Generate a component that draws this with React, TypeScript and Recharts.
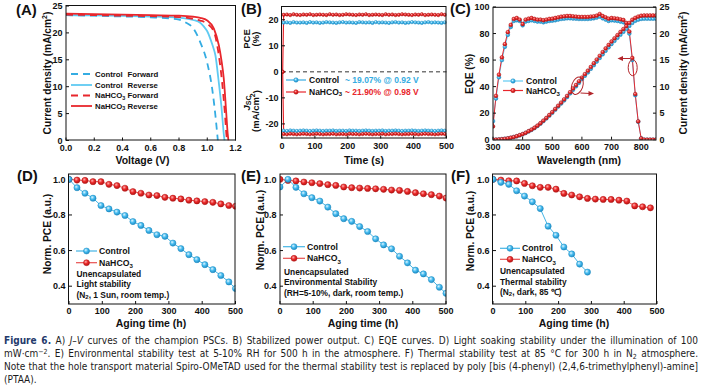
import React from "react";
import { LineChart, Line, XAxis, YAxis, ReferenceLine } from "recharts";

const FONT = "'Liberation Sans', Arial, Helvetica, sans-serif";
const CAPTION_FONT = "'Liberation Sans Narrow', 'DejaVu Sans Condensed', Lato, sans-serif";
const BLUE = "#34ace2";
const BLUE_LIGHT = "#5fcaf2";
const RED = "#e8262c";
const DARK_RED = "#b3262b";
const INK = "#111";

// ---- (A) J-V curves ----
const cfV = [0, 0.2, 0.4, 0.6, 0.8, 0.85, 0.9, 0.95, 1.0, 1.035, 1.058, 1.075];
const cfJ = [23.3, 23.2, 23.05, 22.9, 22.45, 21.9, 20.9, 18.3, 14.4, 9.6, 4.6, 0];
const crV = [0, 0.2, 0.4, 0.6, 0.8, 0.9, 0.95, 0.975, 1.0, 1.022, 1.04, 1.058, 1.08, 1.1, 1.117, 1.122];
const crJ = [23.3, 23.25, 23.15, 23.05, 22.85, 22.4, 21.9, 21.2, 20.3, 18.9, 17.5, 15.8, 11.2, 6.4, 1.2, 0];
const nfV = [0, 0.2, 0.4, 0.6, 0.8, 0.9, 0.95, 1.0, 1.047, 1.082, 1.105, 1.124, 1.136, 1.14];
const nfJ = [23.4, 23.3, 23.2, 23.1, 22.95, 22.6, 22.3, 21.7, 20.2, 15.8, 10.9, 5.3, 1.0, 0];
const nrV = [0, 0.2, 0.4, 0.6, 0.8, 0.9, 0.95, 1.0, 1.047, 1.082, 1.1, 1.117, 1.134, 1.145, 1.15];
const nrJ = [23.6, 23.5, 23.4, 23.3, 23.2, 23.0, 22.8, 22.3, 20.8, 17.7, 15.0, 11.5, 5.3, 1.2, 0];

// ---- (B) stabilized output ----
const tB = [5, 15, 25, 35, 45, 55, 65, 75, 85, 95, 105, 115, 125, 135, 145, 155, 165, 175, 185, 195,
  205, 215, 225, 235, 245, 255, 265, 275, 285, 295, 305, 315, 325, 335, 345, 355, 365, 375, 385, 395,
  405, 415, 425, 435, 445, 455, 465, 475, 485, 495];
const pceControl = [18.9, 19.0, 18.8, 19.1, 18.9, 18.9, 19.0, 18.8, 19.1, 18.9,
  19.0, 18.8, 18.9, 19.1, 19.0, 18.9, 18.8, 19.0, 19.1, 18.9,
  19.0, 18.9, 18.8, 19.1, 19.0, 18.9, 19.0, 18.8, 19.1, 18.9,
  19.0, 18.9, 18.8, 19.0, 19.1, 18.9, 19.0, 18.8, 18.9, 19.1,
  19.0, 18.9, 18.8, 19.0, 19.1, 18.9, 19.0, 18.9, 18.8, 19.0];
const pceNa = [21.9, 22.0, 21.8, 22.1, 21.9, 21.8, 22.0, 21.9, 22.1, 21.8,
  21.9, 22.0, 21.9, 21.8, 22.1, 21.9, 22.0, 21.8, 21.9, 22.1,
  22.0, 21.9, 21.8, 22.0, 21.9, 22.1, 21.8, 21.9, 22.0, 21.9,
  21.8, 22.1, 21.9, 22.0, 21.8, 21.9, 22.1, 22.0, 21.9, 21.8,
  22.0, 21.9, 22.1, 21.8, 21.9, 22.0, 21.9, 21.8, 22.1, 21.9];
const jscControlB = [-22.6, -22.7, -22.5, -22.6, -22.7, -22.6, -22.5, -22.6, -22.7, -22.6,
  -22.5, -22.6, -22.7, -22.6, -22.6, -22.5, -22.7, -22.6, -22.6, -22.7,
  -22.5, -22.6, -22.6, -22.7, -22.6, -22.5, -22.6, -22.7, -22.6, -22.6,
  -22.5, -22.7, -22.6, -22.6, -22.5, -22.6, -22.7, -22.6, -22.6, -22.5,
  -22.6, -22.7, -22.6, -22.5, -22.6, -22.6, -22.7, -22.6, -22.5, -22.6];
const jscNaB = [-23.9, -24.0, -23.8, -23.9, -24.0, -23.9, -23.8, -23.9, -24.0, -23.9,
  -23.8, -23.9, -24.0, -23.9, -23.9, -23.8, -24.0, -23.9, -23.9, -24.0,
  -23.8, -23.9, -23.9, -24.0, -23.9, -23.8, -23.9, -24.0, -23.9, -23.9,
  -23.8, -24.0, -23.9, -23.9, -23.8, -23.9, -24.0, -23.9, -23.9, -23.8,
  -23.9, -24.0, -23.9, -23.8, -23.9, -23.9, -24.0, -23.9, -23.8, -23.9];
// light switched on at ~2 s for the NaHCO3 device
const startT = 2;
const startV = 0;

// ---- (C) EQE ----
const wl = [300, 310, 320, 330, 340, 350, 360, 370, 380, 390, 400, 410, 420, 430, 440, 450, 460, 470, 480, 490,
  500, 510, 520, 530, 540, 550, 560, 570, 580, 590, 600, 610, 620, 630, 640, 650, 660, 670, 680, 690,
  700, 710, 720, 730, 740, 750, 760, 770, 780, 790, 800, 810, 820, 830, 840, 850];
const eqeControl = [14, 31, 47, 60, 70, 79, 85, 89.5, 90, 89.5,
  86.2, 89, 89.5, 90, 89.5, 89, 89, 88.5, 89, 89.5,
  89.7, 90, 90.5, 91, 91.2, 91.5, 91.5, 91.3, 91.2, 91,
  91, 91, 91, 91.2, 91.5, 92, 92.8, 91.5, 90.5, 89.5,
  90, 89.8, 89.5, 89, 88.5, 86.5, 80, 60, 33.5, 13.5,
  1, 0, 0, 0, 0, 0];
const eqeNa = [10, 33, 49, 62, 72, 81, 86.5, 91, 91.7, 90.5,
  87.2, 90.5, 91.2, 91.7, 91, 90.5, 90.5, 90, 90.5, 91,
  91.2, 91.7, 92.2, 92.7, 93, 93.2, 93.2, 93, 92.8, 92.5,
  92.5, 92.5, 92.5, 92.8, 93, 93.5, 94.7, 93.2, 92.2, 91.2,
  91.7, 91.5, 91.2, 90.7, 90.2, 88, 81.5, 61.6, 34.4, 13.8,
  1, 0, 0, 0, 0, 0];
const jscControlC = [0, 0.02, 0.05, 0.1, 0.17, 0.25, 0.36, 0.49, 0.64, 0.83,
  1.02, 1.27, 1.56, 1.85, 2.19, 2.58, 3.02, 3.5, 4.0, 4.53,
  5.07, 5.65, 6.24, 6.82, 7.4, 8.04, 8.72, 9.4, 10.05, 10.72,
  11.4, 12.04, 12.67, 13.35, 14.03, 14.72, 15.4, 16.08, 16.76, 17.4,
  18.03, 18.62, 19.2, 19.78, 20.33, 20.86, 21.44, 22.0, 22.4, 22.62,
  22.76, 22.8, 22.8, 22.8, 22.8, 22.8];
const jscNaC = [0, 0.02, 0.05, 0.1, 0.17, 0.26, 0.37, 0.5, 0.66, 0.85,
  1.05, 1.3, 1.6, 1.9, 2.25, 2.65, 3.1, 3.6, 4.1, 4.65,
  5.2, 5.8, 6.4, 7.0, 7.6, 8.25, 8.95, 9.65, 10.3, 11.0,
  11.7, 12.35, 13.0, 13.7, 14.4, 15.1, 15.8, 16.5, 17.2, 17.85,
  18.5, 19.1, 19.7, 20.3, 20.85, 21.4, 22.0, 22.6, 22.95, 23.2,
  23.35, 23.4, 23.4, 23.4, 23.4, 23.4];

// ---- (D) light stability ----
const tD = [0, 24, 48, 72, 96, 120, 144, 168, 192, 216, 240, 264, 288, 312, 336, 360, 384, 408, 432, 456, 480, 500];
const lightControl = [1.0, 0.953, 0.922, 0.894, 0.853, 0.834, 0.816, 0.797, 0.763, 0.741, 0.713,
  0.689, 0.68, 0.642, 0.611, 0.577, 0.549, 0.521, 0.493, 0.46, 0.424, 0.387];
const lightNa = [1.0, 0.996, 0.994, 0.987, 0.987, 0.972, 0.965, 0.95, 0.931, 0.922, 0.912,
  0.909, 0.899, 0.894, 0.89, 0.883, 0.879, 0.875, 0.871, 0.862, 0.853, 0.849];

// ---- (E) environmental stability ----
const tE = [0, 24, 48, 72, 96, 120, 144, 168, 192, 216, 240, 264, 288, 312, 336, 360, 384, 408, 432, 456, 480, 500];
const envControl = [0.957, 1.0, 0.955, 0.919, 0.897, 0.878, 0.844, 0.807, 0.779, 0.764, 0.735,
  0.707, 0.666, 0.632, 0.61, 0.568, 0.531, 0.49, 0.469, 0.437, 0.394, 0.36];
const envNa = [1.0, 0.994, 0.991, 0.985, 0.981, 0.976, 0.97, 0.966, 0.957, 0.953, 0.951,
  0.949, 0.947, 0.944, 0.94, 0.938, 0.932, 0.925, 0.919, 0.914, 0.906, 0.895];

// ---- (F) thermal stability ----
const tFControl = [0, 24, 48, 72, 96, 120, 144, 168, 192, 216, 240, 264, 288];
const thermControl = [1.0, 0.983, 0.972, 0.936, 0.906, 0.874, 0.836, 0.737, 0.686, 0.62, 0.581, 0.524, 0.479];
const tFNa = [0, 24, 48, 72, 96, 120, 144, 168, 192, 216, 240, 264, 288, 312, 336, 360, 384, 408, 432, 456, 480];
const thermNa = [1.0, 0.996, 0.992, 0.991, 0.977, 0.964, 0.955, 0.955, 0.945, 0.921, 0.912,
  0.902, 0.893, 0.889, 0.887, 0.887, 0.883, 0.878, 0.851, 0.846, 0.84];

const pts = (xs: number[], ys: number[]) => xs.map((x, i) => ({ x, y: ys[i] }));
const dataC = wl.map((w, i) => ({ wl: w, eqeC: eqeControl[i], eqeN: eqeNa[i], jC: jscControlC[i], jN: jscNaC[i] }));

// plot rectangles in page pixels
type Box = { l: number; t: number; r: number; b: number };
const boxA: Box = { l: 66, t: 5.5, r: 235.5, b: 140 };
const boxB: Box = { l: 281.5, t: 6.5, r: 446, b: 138 };
const boxC: Box = { l: 493, t: 7.3, r: 656, b: 140 };
const boxD: Box = { l: 68.5, t: 174, r: 235, b: 304 };
const boxE: Box = { l: 280, t: 174, r: 446, b: 304 };
const boxF: Box = { l: 492.5, t: 174, r: 656.5, b: 304 };

const YW = 36, PT = 8, PR = 12, XH = 18, RW = 24;

function frame(box: Box, rightW = 0) {
  return {
    style: { position: "absolute" as const, left: box.l - YW, top: box.t - PT },
    width: YW + (box.r - box.l) + PR + rightW,
    height: PT + (box.b - box.t) + XH,
    margin: { top: PT, right: PR, bottom: 0, left: 0 },
  };
}

const tickStyle = { fontSize: 9, fontWeight: "bold", fill: INK, fontFamily: FONT };
const xProps = { axisLine: false, tickSize: -3, tickMargin: 7, tick: tickStyle, tickLine: { stroke: INK }, height: XH, interval: 0 as const, allowDataOverflow: true };
const yProps = { axisLine: false, tickSize: -3, tickMargin: 6.5, tick: tickStyle, tickLine: { stroke: INK }, width: YW, interval: 0 as const, allowDataOverflow: true };
const one = (v: number) => v.toFixed(1);

const redDot = (r: number) => ({ r, fill: "url(#gRed)", stroke: "#b01616", strokeWidth: 0.5 });
const blueDot = (r: number) => ({ r, fill: "url(#gBlue)", stroke: "#1d8cc2", strokeWidth: 0.5 });

function StabilityChart({ box, cx, cy, nx, ny, xTicks }: { box: Box; cx: number[]; cy: number[]; nx: number[]; ny: number[]; xTicks: number[] }) {
  const f = frame(box);
  return (
    <div style={f.style}>
      <LineChart width={f.width} height={f.height} margin={f.margin}>
        <XAxis type="number" dataKey="x" domain={[0, 500]} ticks={xTicks} {...xProps} />
        <YAxis type="number" domain={[0.3, 1.03]} ticks={[0.4, 0.6, 0.8, 1.0]} tickFormatter={one} {...yProps} />
        <Line data={pts(nx, ny)} dataKey="y" stroke="#e85050" strokeWidth={1} dot={redDot(3.1)} activeDot={false} isAnimationActive={false} />
        <Line data={pts(cx, cy)} dataKey="y" stroke="#45b5e5" strokeWidth={1} dot={blueDot(3.1)} activeDot={false} isAnimationActive={false} />
      </LineChart>
    </div>
  );
}

const T = (p: any) => (
  <text fontFamily={FONT} fontWeight="bold" fill={INK} dominantBaseline="central" {...p} />
);
const VT = ({ x, y, size = 10.2, children }: any) => (
  <text transform={`translate(${x},${y}) rotate(-90)`} textAnchor="middle" fontFamily={FONT} fontWeight="bold" fontSize={size} fill={INK} dominantBaseline="central">
    {children}
  </text>
);
const Na = ({ size = 8.7 }: { size?: number }) => (
  <>
    NaHCO<tspan dy={2.2} fontSize={size * 0.7}>3</tspan>
  </>
);
const Cm2 = () => (
  <>
    (mA/cm<tspan dy={-3.5} fontSize={7}>2</tspan><tspan dy={3.5}>)</tspan>
  </>
);

function MarkerKey({ x1, x2, y, color, dot }: { x1: number; x2: number; y: number; color: string; dot: string; }) {
  return (
    <g>
      <line x1={x1} x2={x2} y1={y} y2={y} stroke={color} strokeWidth={1.2} />
      <circle cx={(x1 + x2) / 2} cy={y} r={3} fill={dot} stroke={color === "#e85050" ? "#b01616" : "#1d8cc2"} strokeWidth={0.5} />
    </g>
  );
}

function StabilityLegend({ lx, ly, textX, noteX, noteY, lines }: { lx: number[]; ly: number[]; textX: number; noteX: number; noteY: number[]; lines: React.ReactNode[] }) {
  return (
    <g>
      <MarkerKey x1={lx[0]} x2={lx[1]} y={ly[0]} color="#45b5e5" dot="url(#gBlue)" />
      <MarkerKey x1={lx[0]} x2={lx[1]} y={ly[1]} color="#e85050" dot="url(#gRed)" />
      <T x={textX} y={ly[0]} fontSize={8.7}>Control</T>
      <T x={textX} y={ly[1]} fontSize={8.7}><Na /></T>
      {lines.map((l, i) => (
        <T key={i} x={noteX} y={noteY[i]} fontSize={8.4}>{l}</T>
      ))}
    </g>
  );
}

function Overlay() {
  const boxes = [boxA, boxB, boxC, boxD, boxE, boxF];
  return (
    <svg width={702} height={391} style={{ position: "absolute", left: 0, top: 0, pointerEvents: "none" }}>
      <defs>
        <radialGradient id="gRed" cx="0.38" cy="0.35" r="0.7">
          <stop offset="0" stopColor="#ffb0b0" />
          <stop offset="0.45" stopColor="#ec2b2b" />
          <stop offset="1" stopColor="#b01010" />
        </radialGradient>
        <radialGradient id="gBlue" cx="0.38" cy="0.35" r="0.7">
          <stop offset="0" stopColor="#dff5ff" />
          <stop offset="0.45" stopColor="#48bdf0" />
          <stop offset="1" stopColor="#1a86c0" />
        </radialGradient>
      </defs>
      {boxes.map((b, i) => (
        <rect key={i} x={b.l} y={b.t} width={b.r - b.l} height={b.b - b.t} fill="none" stroke={INK} strokeWidth={1} />
      ))}

      {/* panel letters */}
      <T x={16} y={9} fontSize={15}>(A)</T>
      <T x={241} y={8.5} fontSize={15}>(B)</T>
      <T x={450} y={8.5} fontSize={15}>(C)</T>
      <T x={17} y={175} fontSize={15}>(D)</T>
      <T x={241} y={175} fontSize={15}>(E)</T>
      <T x={451} y={175} fontSize={15}>(F)</T>

      {/* axis titles */}
      <T x={142.5} y={160} fontSize={10.5} textAnchor="middle">Voltage (V)</T>
      <T x={364} y={160} fontSize={10.5} textAnchor="middle">Time (s)</T>
      <T x={579} y={160} fontSize={10.5} textAnchor="middle">Wavelength (nm)</T>
      <T x={151} y={322.5} fontSize={10.5} textAnchor="middle">Aging time (h)</T>
      <T x={363} y={322.5} fontSize={10.5} textAnchor="middle">Aging time (h)</T>
      <T x={574} y={322.5} fontSize={10.5} textAnchor="middle">Aging time (h)</T>
      <VT x={47} y={73}>Current density <Cm2 /></VT>
      <VT x={469.5} y={74}>EQE (%)</VT>
      <VT x={683} y={73}>Current density <Cm2 /></VT>
      <VT x={47} y={234}>Norm. PCE (a.u.)</VT>
      <VT x={260.5} y={230}>Norm. PCE (a.u.)</VT>
      <VT x={470} y={231}>Norm. PCE (a.u.)</VT>
      <VT x={246} y={39} size={9.5}>PCE</VT>
      <VT x={255} y={39} size={9.5}>(%)</VT>
      <VT x={246} y={103} size={9.5}>
        <tspan fontStyle="italic">J</tspan><tspan dy={2} fontSize={7}>SC</tspan>
      </VT>
      <VT x={255.5} y={111} size={9.5}><Cm2 /></VT>

      {/* legend A */}
      <line x1={71} x2={92} y1={74} y2={74} stroke={BLUE} strokeWidth={1.8} strokeDasharray="7 5" />
      <line x1={71} x2={92} y1={85} y2={85} stroke={BLUE_LIGHT} strokeWidth={1.8} />
      <line x1={71} x2={92} y1={95.5} y2={95.5} stroke={RED} strokeWidth={1.8} strokeDasharray="7 5" />
      <line x1={71} x2={92} y1={106} y2={106} stroke={RED} strokeWidth={1.8} />
      <T x={95} y={74} fontSize={7.8}>Control</T>
      <T x={127.5} y={74} fontSize={7.8}>Forward</T>
      <T x={95} y={85} fontSize={7.8}>Control</T>
      <T x={127.5} y={85} fontSize={7.8}>Reverse</T>
      <T x={95} y={95.5} fontSize={7.8}><Na size={7.8} /></T>
      <T x={127.5} y={95.5} fontSize={7.8}>Forward</T>
      <T x={95} y={106} fontSize={7.8}><Na size={7.8} /></T>
      <T x={127.5} y={106} fontSize={7.8}>Reverse</T>

      {/* legend B */}
      <line x1={286} x2={306} y1={80} y2={80} stroke={BLUE} strokeWidth={1.2} />
      <circle cx={296} cy={80} r={2.2} fill="url(#gBlue)" stroke="#1d8cc2" strokeWidth={0.5} />
      <line x1={286} x2={306} y1={92} y2={92} stroke={RED} strokeWidth={1.2} />
      <circle cx={296} cy={92} r={2.2} fill="url(#gRed)" stroke="#b01616" strokeWidth={0.5} />
      <T x={309} y={80} fontSize={8.5}>Control</T>
      <T x={345} y={80} fontSize={8.5} fill={BLUE}>~ 19.07% @ 0.92 V</T>
      <T x={309} y={92} fontSize={8.5}><Na size={8.5} /></T>
      <T x={345} y={92} fontSize={8.5} fill={RED}>~ 21.90% @ 0.98 V</T>

      {/* legend C */}
      <line x1={503} x2={523} y1={81} y2={81} stroke={BLUE_LIGHT} strokeWidth={1.2} />
      <circle cx={513} cy={81} r={2.2} fill="url(#gBlue)" stroke="#1d8cc2" strokeWidth={0.5} />
      <line x1={503} x2={523} y1={90.5} y2={90.5} stroke={RED} strokeWidth={1.2} />
      <circle cx={513} cy={90.5} r={2.2} fill="url(#gRed)" stroke="#b01616" strokeWidth={0.5} />
      <T x={526} y={81} fontSize={8.7}>Control</T>
      <T x={526} y={90.5} fontSize={8.7}><Na /></T>

      {/* C annotations */}
      <ellipse cx={577.3} cy={85.7} rx={5.5} ry={9} transform="rotate(20 577.3 85.7)" fill="none" stroke={DARK_RED} strokeWidth={1} />
      <line x1={580.5} y1={93} x2={590} y2={93.5} stroke={DARK_RED} strokeWidth={1} />
      <polygon points="594,93.5 588.5,91 588.5,96" fill={DARK_RED} />
      <ellipse cx={632.7} cy={67.7} rx={4.5} ry={8} fill="none" stroke={DARK_RED} strokeWidth={1} />
      <line x1={630} y1={58.5} x2={621} y2={58.5} stroke={DARK_RED} strokeWidth={1} />
      <polygon points="617.5,58.5 623,56 623,61" fill={DARK_RED} />

      {/* legends D E F */}
      <StabilityLegend lx={[76, 97]} ly={[251, 262.7]} textX={99} noteX={76.5} noteY={[273.5, 284.3, 295]}
        lines={["Unencapsulated", "Light stability", <>(N<tspan dy={2} fontSize={6}>2</tspan><tspan dy={-2}>, 1 Sun, room temp.)</tspan></>]} />
      <StabilityLegend lx={[283, 305]} ly={[246.7, 258.3]} textX={307} noteX={284} noteY={[271.7, 282.3, 293.3]}
        lines={["Unencapsulated", "Environmental Stability", "(RH=5-10%, dark, room temp.)"]} />
      <StabilityLegend lx={[500, 520]} ly={[248.3, 259.3]} textX={522} noteX={500} noteY={[271, 281.7, 292.3]}
        lines={["Unencapsulated", "Thermal stability", <>(N<tspan dy={2} fontSize={6}>2</tspan><tspan dy={-2}>, dark, 85 ℃)</tspan></>]} />
    </svg>
  );
}

const capLine = (top: number, justify: boolean): React.CSSProperties => ({
  position: "absolute",
  left: 4,
  width: 694,
  top,
  height: 13,
  lineHeight: "13px",
  fontSize: 10,
  fontFamily: CAPTION_FONT,
  color: "#1a1a1a",
  textAlign: justify ? "justify" : "left",
  textAlignLast: justify ? "justify" : "left",
  whiteSpace: "nowrap",
});
const sup: React.CSSProperties = { fontSize: 7, verticalAlign: "3px", lineHeight: 0 };
const sub: React.CSSProperties = { fontSize: 7, verticalAlign: "-2px", lineHeight: 0 };

function Caption() {
  return (
    <>
      <div style={capLine(333.5, true)}>
        <b style={{ color: "#243a6b" }}>Figure 6.</b> A) <i>J</i>–<i>V</i> curves of the champion PSCs. B) Stabilized power output. C) EQE curves. D) Light soaking stability under the illumination of 100
      </div>
      <div style={capLine(346.5, true)}>
        mW·cm<span style={sup}>−2</span>. E) Environmental stability test at 5-10% RH for 500 h in the atmosphere. F) Thermal stability test at 85 °C for 300 h in N<span style={sub}>2</span> atmosphere.
      </div>
      <div style={capLine(359.5, true)}>
        Note that the hole transport material Spiro-OMeTAD used for the thermal stability test is replaced by poly [bis (4-phenyl) (2,4,6-trimethylphenyl)-amine]
      </div>
      <div style={capLine(373, false)}>(PTAA).</div>
    </>
  );
}

export default function App() {
  const fA = frame(boxA);
  const fB = frame(boxB);
  const fC = frame(boxC, RW);
  const naPce = [{ x: startT, y: startV }, ...pts(tB, pceNa)];
  const naJsc = [{ x: startT, y: startV }, ...pts(tB, jscNaB)];
  return (
    <div style={{ position: "absolute", left: 0, top: 0, width: 702, height: 391, background: "#fff", overflow: "hidden", fontFamily: FONT }}>
      {/* (A) */}
      <div style={fA.style}>
        <LineChart width={fA.width} height={fA.height} margin={fA.margin}>
          <XAxis type="number" dataKey="x" domain={[0, 1.2]} ticks={[0, 0.2, 0.4, 0.6, 0.8, 1.0, 1.2]} tickFormatter={one} {...xProps} />
          <YAxis type="number" domain={[0, 25]} ticks={[0, 5, 10, 15, 20, 25]} {...yProps} />
          <Line data={pts(crV, crJ)} dataKey="y" type="monotone" stroke={BLUE_LIGHT} strokeWidth={1.8} dot={false} activeDot={false} isAnimationActive={false} />
          <Line data={pts(cfV, cfJ)} dataKey="y" type="monotone" stroke={BLUE} strokeWidth={1.8} strokeDasharray="7 5" dot={false} activeDot={false} isAnimationActive={false} />
          <Line data={pts(nfV, nfJ)} dataKey="y" type="monotone" stroke={RED} strokeWidth={1.8} strokeDasharray="7 5" dot={false} activeDot={false} isAnimationActive={false} />
          <Line data={pts(nrV, nrJ)} dataKey="y" type="monotone" stroke={RED} strokeWidth={1.8} dot={false} activeDot={false} isAnimationActive={false} />
        </LineChart>
      </div>

      {/* (B) */}
      <div style={fB.style}>
        <LineChart width={fB.width} height={fB.height} margin={fB.margin}>
          <XAxis type="number" dataKey="x" domain={[0, 500]} ticks={[0, 100, 200, 300, 400, 500]} {...xProps} />
          <YAxis type="number" domain={[-25.6, 24.9]} ticks={[-20, -10, 0, 10, 20]} {...yProps} />
          <ReferenceLine y={0} stroke="#333" strokeDasharray="4 3" strokeWidth={1} />
          <Line data={pts(tB, pceControl)} dataKey="y" stroke={BLUE} strokeWidth={1.2} dot={blueDot(1.7)} activeDot={false} isAnimationActive={false} />
          <Line data={pts(tB, jscControlB)} dataKey="y" stroke={BLUE} strokeWidth={1.2} dot={blueDot(1.7)} activeDot={false} isAnimationActive={false} />
          <Line data={naPce} dataKey="y" stroke={RED} strokeWidth={1.2} dot={redDot(1.7)} activeDot={false} isAnimationActive={false} />
          <Line data={naJsc} dataKey="y" stroke={RED} strokeWidth={1.2} dot={redDot(1.7)} activeDot={false} isAnimationActive={false} />
        </LineChart>
      </div>

      {/* (C) */}
      <div style={fC.style}>
        <LineChart width={fC.width} height={fC.height} margin={fC.margin} data={dataC}>
          <XAxis type="number" dataKey="wl" domain={[300, 850]} ticks={[300, 400, 500, 600, 700, 800]} {...xProps} />
          <YAxis yAxisId="l" type="number" domain={[0, 100]} ticks={[0, 20, 40, 60, 80, 100]} {...yProps} />
          <YAxis yAxisId="r" orientation="right" type="number" domain={[0, 25]} ticks={[0, 5, 10, 15, 20, 25]} {...yProps} width={RW} />
          <Line yAxisId="l" dataKey="eqeC" stroke={BLUE_LIGHT} strokeWidth={1} dot={blueDot(1.9)} activeDot={false} isAnimationActive={false} />
          <Line yAxisId="r" dataKey="jC" stroke={BLUE_LIGHT} strokeWidth={1} dot={blueDot(1.9)} activeDot={false} isAnimationActive={false} />
          <Line yAxisId="l" dataKey="eqeN" stroke={RED} strokeWidth={1} dot={redDot(1.9)} activeDot={false} isAnimationActive={false} />
          <Line yAxisId="r" dataKey="jN" stroke={RED} strokeWidth={1} dot={redDot(1.9)} activeDot={false} isAnimationActive={false} />
        </LineChart>
      </div>

      <StabilityChart box={boxD} cx={tD} cy={lightControl} nx={tD} ny={lightNa} xTicks={[0, 100, 200, 300, 400, 500]} />
      <StabilityChart box={boxE} cx={tE} cy={envControl} nx={tE} ny={envNa} xTicks={[0, 100, 200, 300, 400, 500]} />
      <StabilityChart box={boxF} cx={tFControl} cy={thermControl} nx={tFNa} ny={thermNa} xTicks={[0, 100, 200, 300, 400, 500]} />

      <Overlay />
      <Caption />
    </div>
  );
}
